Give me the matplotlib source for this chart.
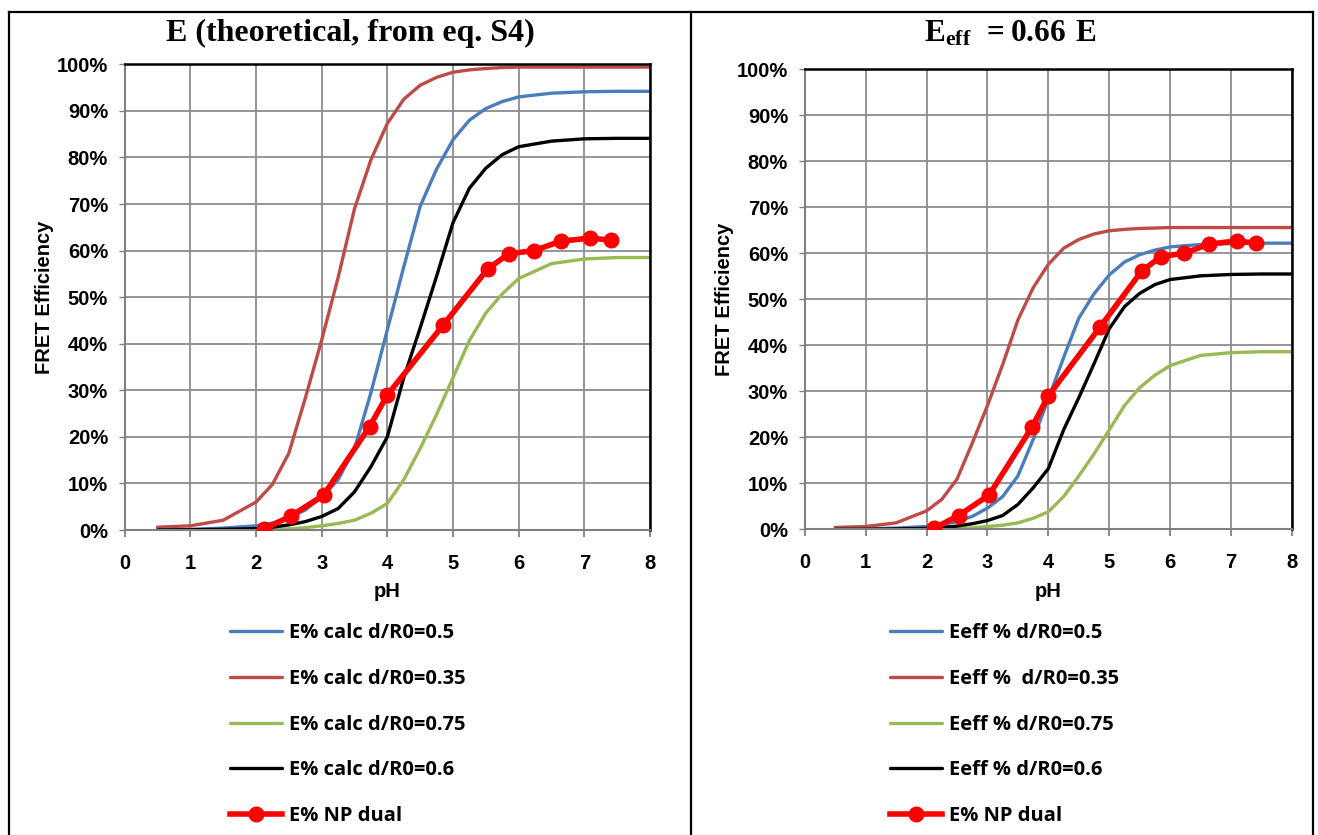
import matplotlib
matplotlib.use("Agg")
import matplotlib.pyplot as plt
from matplotlib.lines import Line2D
from matplotlib.ticker import FuncFormatter, MultipleLocator
from matplotlib.font_manager import FontProperties

# ---------------- data ----------------
ph = [0.5, 1.0, 1.5, 2.0, 2.25, 2.5, 2.75, 3.0, 3.25, 3.5, 3.75, 4.0, 4.25,
      4.5, 4.75, 5.0, 5.25, 5.5, 5.75, 6.0, 6.5, 7.0, 7.5, 8.0]

# Left panel: E (theoretical), in %
e_r050 = [0.05, 0.15, 0.4, 0.9, 1.5, 2.6, 4.3, 7.0, 10.8, 17.5, 29.5, 43.0, 56.5,
          69.5, 77.5, 83.8, 88.0, 90.5, 92.0, 93.0, 93.8, 94.1, 94.2, 94.2]
e_r035 = [0.6, 0.9, 2.1, 6.0, 9.8, 16.5, 28.3, 40.8, 54.2, 69.0, 79.5, 87.3, 92.5,
          95.5, 97.2, 98.3, 98.8, 99.1, 99.3, 99.4, 99.4, 99.4, 99.4, 99.4]
e_r075 = [0.0, 0.02, 0.05, 0.1, 0.15, 0.25, 0.5, 0.9, 1.4, 2.1, 3.6, 5.7, 10.8,
          17.5, 24.8, 32.7, 40.7, 46.6, 50.7, 54.0, 57.2, 58.2, 58.5, 58.5]
e_r060 = [0.02, 0.05, 0.15, 0.3, 0.6, 1.1, 1.8, 2.9, 4.6, 8.2, 13.6, 20.0, 32.7,
          43.4, 54.5, 66.0, 73.4, 77.7, 80.6, 82.3, 83.5, 84.0, 84.1, 84.1]

# Right panel: Eeff = 0.66 E, in %
eff_r050 = [0.03, 0.1, 0.26, 0.6, 1.0, 1.7, 2.8, 4.6, 7.1, 11.6, 19.5, 28.4, 37.3,
            45.9, 51.2, 55.3, 58.1, 59.7, 60.7, 61.4, 61.9, 62.1, 62.2, 62.2]
eff_r035 = [0.4, 0.6, 1.4, 4.0, 6.5, 10.9, 18.7, 26.9, 35.8, 45.5, 52.5, 57.6, 61.1,
            63.0, 64.2, 64.9, 65.2, 65.4, 65.5, 65.6, 65.6, 65.6, 65.6, 65.6]
eff_r075 = [0.0, 0.01, 0.03, 0.07, 0.1, 0.17, 0.3, 0.6, 0.9, 1.4, 2.4, 3.8, 7.1,
            11.6, 16.4, 21.6, 26.9, 30.8, 33.5, 35.6, 37.8, 38.4, 38.6, 38.6]
eff_r060 = [0.01, 0.03, 0.1, 0.2, 0.4, 0.7, 1.2, 1.9, 3.0, 5.4, 9.0, 13.2, 21.6,
            28.6, 36.0, 43.6, 48.4, 51.3, 53.2, 54.3, 55.1, 55.4, 55.5, 55.5]

# Measured: E% NP dual
np_ph = [2.12, 2.53, 3.03, 3.73, 4.0, 4.85, 5.53, 5.85, 6.23, 6.64, 7.09, 7.41]
np_e = [0.2, 3.0, 7.5, 22.2, 29.0, 44.0, 56.1, 59.3, 60.0, 62.0, 62.7, 62.2]

left_labels = ["E% calc d/R0=0.5", "E% calc d/R0=0.35", "E% calc d/R0=0.75",
               "E% calc d/R0=0.6", "E% NP dual"]
right_labels = ["Eeff % d/R0=0.5", "Eeff %  d/R0=0.35", "Eeff % d/R0=0.75",
                "Eeff % d/R0=0.6", "E% NP dual"]

C_BLUE = "#4A7EBB"
C_RED = "#BE4B48"
C_GREEN = "#98B954"
C_BLACK = "#000000"
C_DATA = "#FF0000"

W, H = 1318, 835
fig = plt.figure(figsize=(W / 100, H / 100), dpi=100)

def fx(px):
    return px / W

def fy(py):
    return 1 - py / H

# table frame lines
frame_kw = dict(color="black", lw=1.6, transform=fig.transFigure, clip_on=False)
fig.add_artist(Line2D([fx(9), fx(1313)], [fy(12), fy(12)], **frame_kw))
fig.add_artist(Line2D([fx(9), fx(9)], [fy(12), fy(835)], **frame_kw))
fig.add_artist(Line2D([fx(691), fx(691)], [fy(12), fy(835)], **frame_kw))
fig.add_artist(Line2D([fx(1313), fx(1313)], [fy(12), fy(835)], **frame_kw))

TICKFONT = dict(family="Liberation Sans", weight="bold", size=14.5)
LABFONT = dict(family="Liberation Sans", weight="bold", size=14.5)
LEGFONT = dict(family="Open Sans", weight="bold", size=14.5)


def setup_axes(ax):
    ax.set_xlim(0, 8)
    ax.set_ylim(0, 100)
    ax.xaxis.set_major_locator(MultipleLocator(1))
    ax.yaxis.set_major_locator(MultipleLocator(10))
    ax.yaxis.set_major_formatter(FuncFormatter(lambda v, p: f"{int(round(v))}%"))
    ax.grid(True, color="#8C8C8C", lw=1.3)
    ax.set_axisbelow(True)
    for s in ("top", "right"):
        ax.spines[s].set_color("black")
        ax.spines[s].set_linewidth(1.8)
    for s in ("left", "bottom"):
        ax.spines[s].set_color("#7F7F7F")
        ax.spines[s].set_linewidth(1.5)
    ax.tick_params(axis="x", direction="out", length=5, width=1.3, color="#7F7F7F",
                   pad=12)
    ax.tick_params(axis="y", direction="out", length=4, width=1.0, color="#7F7F7F",
                   pad=8)
    for lab in ax.get_xticklabels() + ax.get_yticklabels():
        lab.set_fontproperties(FontProperties(**TICKFONT))
    ax.set_xlabel("pH", fontdict=LABFONT, labelpad=7)
    ax.set_ylabel("FRET Efficiency", fontdict=LABFONT, labelpad=2)


def draw(ax, ys, labels, leg_x, leg_y):
    cols = [C_BLUE, C_RED, C_GREEN, C_BLACK]
    handles = []
    for y, c, lab in zip(ys, cols, labels[:4]):
        h, = ax.plot(ph, y, color=c, lw=2.4, label=lab, solid_capstyle="round",
                     solid_joinstyle="round")
        handles.append(h)
    h, = ax.plot(np_ph, np_e, color=C_DATA, lw=4.0, marker="o", ms=10.5,
                 label=labels[4], zorder=5)
    handles.append(h)
    leg = fig.legend(handles=handles, labels=labels, loc="upper left",
                     bbox_to_anchor=(fx(leg_x), fy(leg_y)), frameon=False,
                     prop=FontProperties(**LEGFONT),
                     handlelength=2.6, handletextpad=0.35, labelspacing=1.28,
                     borderaxespad=0, borderpad=0)
    return leg


# Left panel
axL = fig.add_axes([fx(124.7), fy(530), fx(650) - fx(124.7), fy(64.3) - fy(530)])
draw(axL, [e_r050, e_r035, e_r075, e_r060], left_labels, 230, 623)
setup_axes(axL)

# Right panel
axR = fig.add_axes([fx(804.7), fy(529.3), fx(1292) - fx(804.7), fy(69.3) - fy(529.3)])
draw(axR, [eff_r050, eff_r035, eff_r075, eff_r060], right_labels, 890, 623)
setup_axes(axR)

# Titles
matplotlib.rcParams["mathtext.fontset"] = "custom"
matplotlib.rcParams["mathtext.bf"] = "Liberation Serif:bold"
matplotlib.rcParams["mathtext.rm"] = "Liberation Serif:bold"
fig.text(fx(350), fy(33), "E (theoretical, from eq. S4)", ha="center", va="center",
         family="Liberation Serif", weight="bold", size=23)
fig.text(fx(1010), fy(33), r"$\mathbf{E_{eff}}\ \mathbf{=0.66\ E}$", ha="center",
         va="center", size=22.5)

fig.savefig("out.png", dpi=100)
